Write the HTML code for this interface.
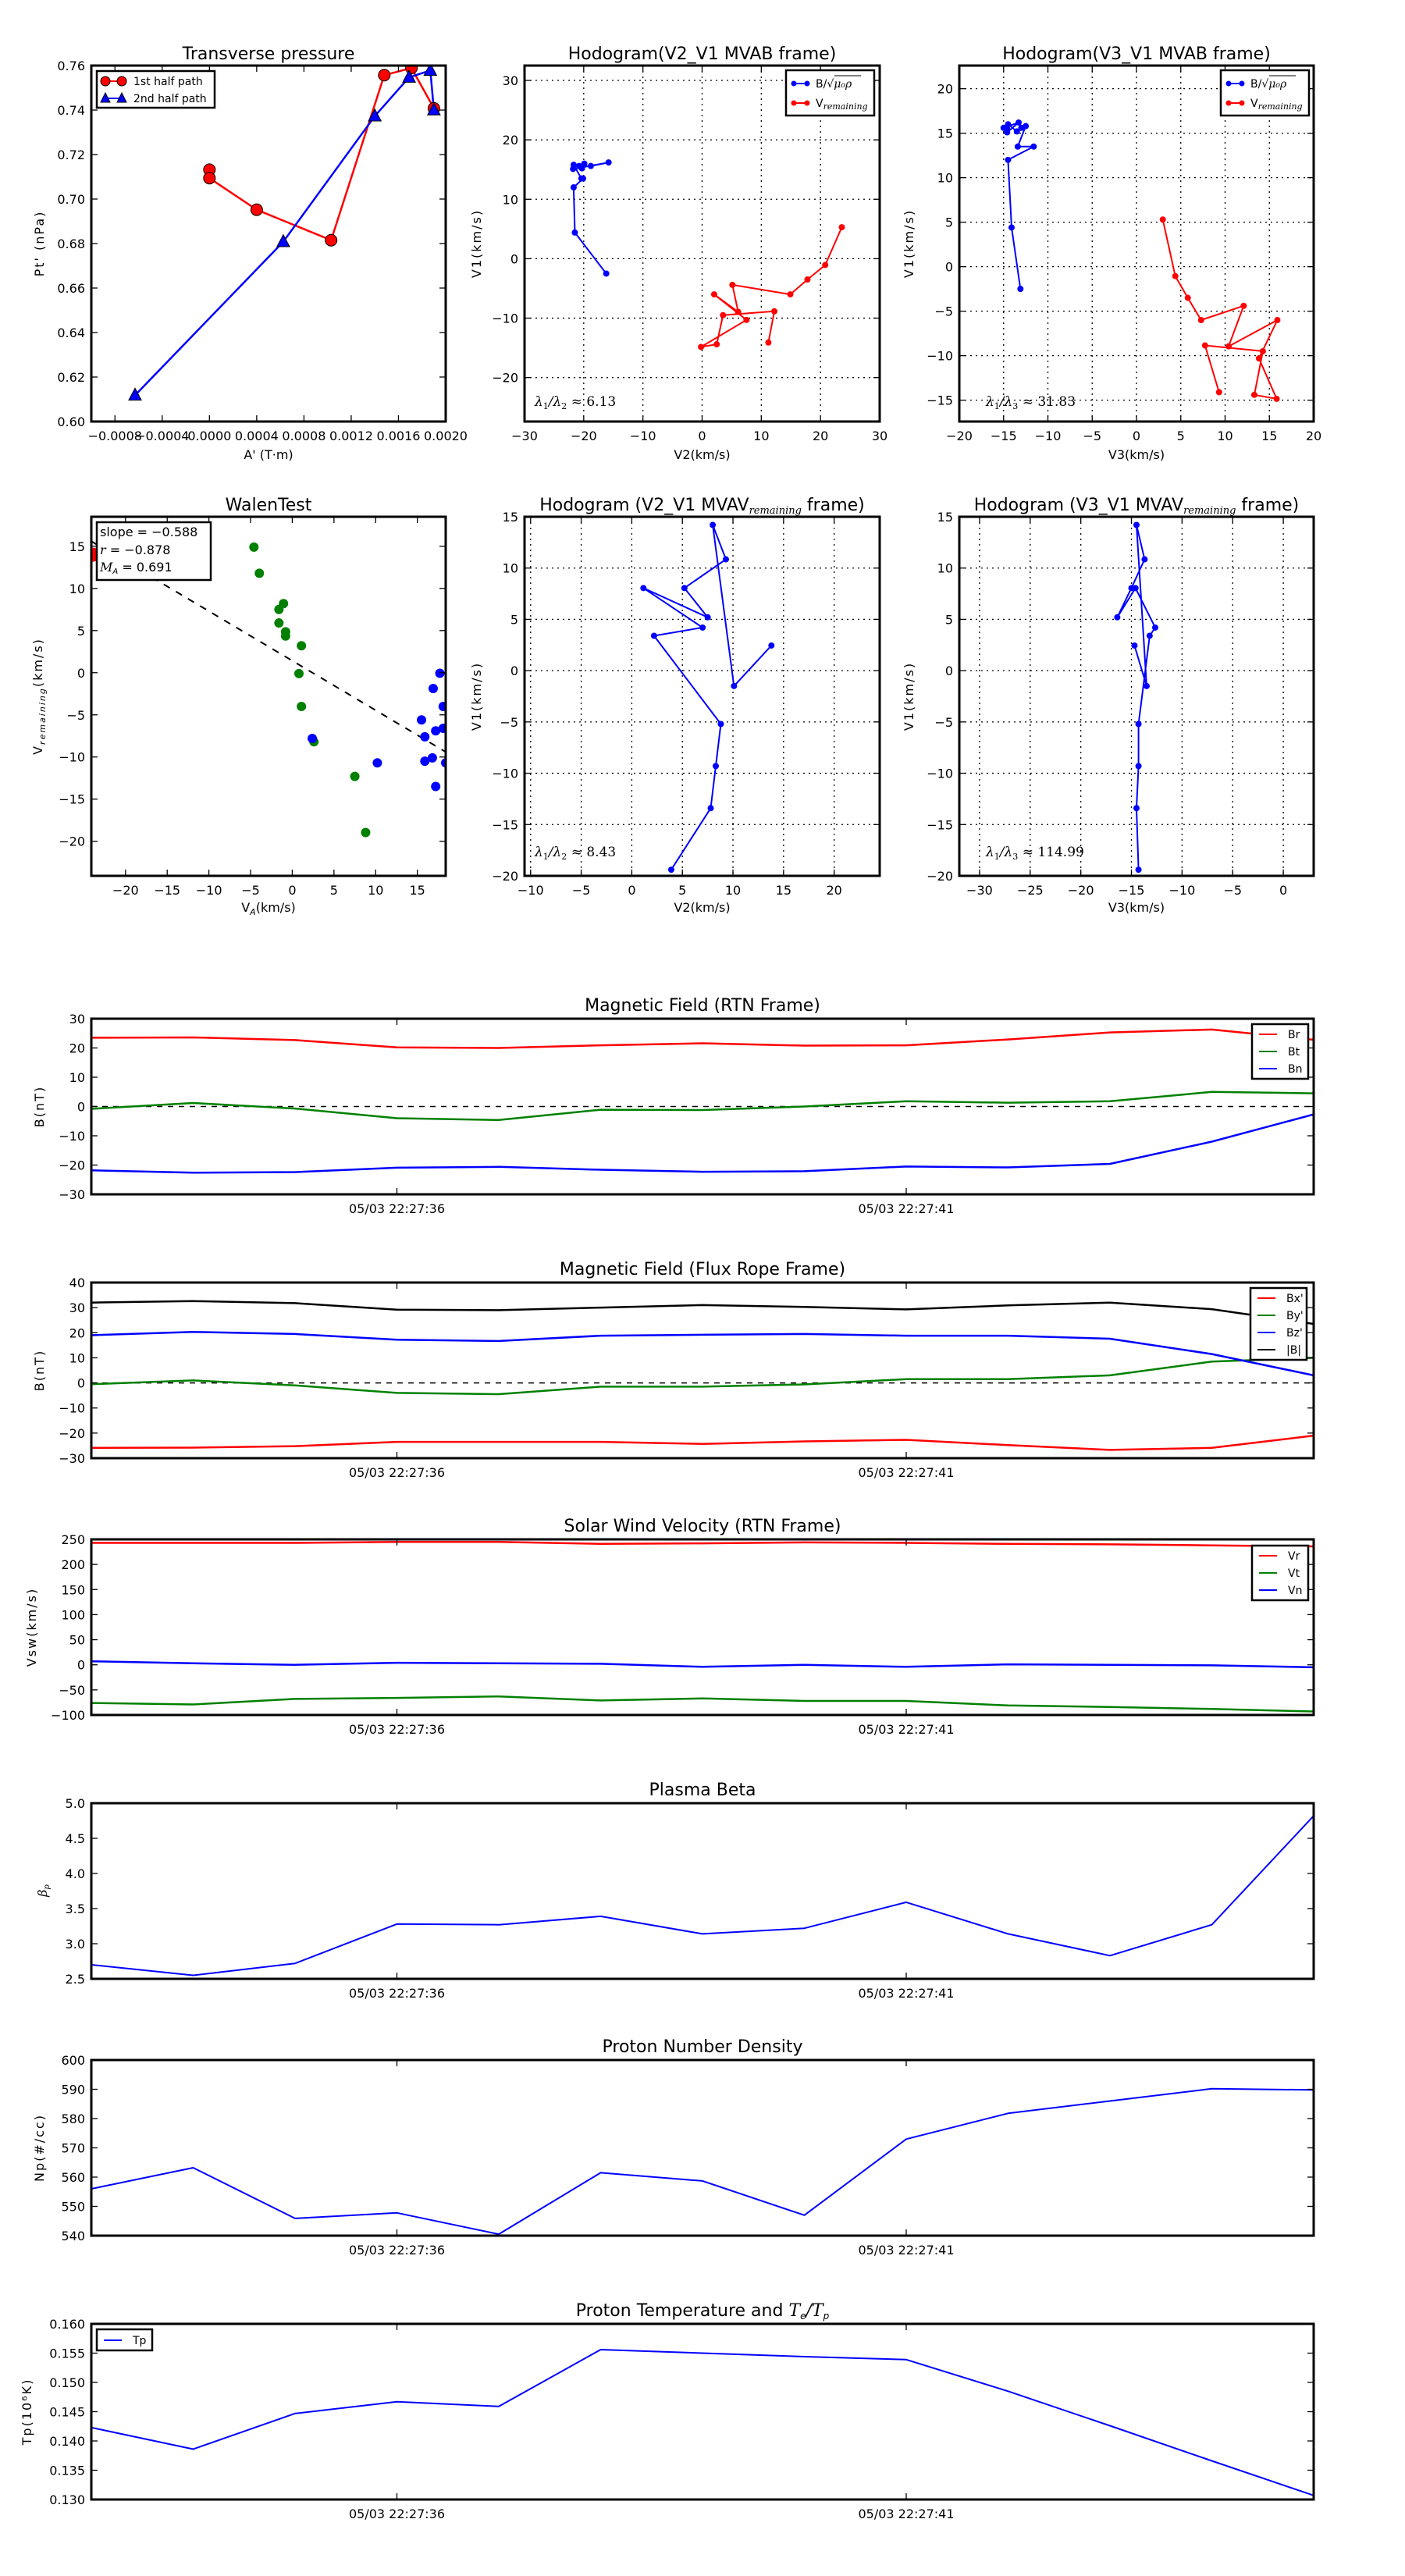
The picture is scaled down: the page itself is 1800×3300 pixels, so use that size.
<!DOCTYPE html>
<html><head><meta charset="utf-8"><title>Flux rope analysis</title>
<style>
html,body{margin:0;padding:0;background:#fff;}
svg{display:block;font-family:"DejaVu Sans","Liberation Sans",sans-serif;}
</style></head>
<body>
<svg id="fig" xmlns="http://www.w3.org/2000/svg" width="1800" height="3300" viewBox="0 0 1800 3300"></svg>
<script>
// ---------- DATA ----------
const tpRed_A = [0.0000, 0.0000, 0.0004, 0.00103, 0.00148, 0.00171, 0.0019];
const tpRed_P = [0.7132, 0.7094, 0.6952, 0.6815, 0.7557, 0.7589, 0.7408];
const tpBlue_A = [-0.00063, 0.000625, 0.0014, 0.00169, 0.00187, 0.0019];
const tpBlue_P = [0.6118, 0.6808, 0.7373, 0.7547, 0.7578, 0.7400];

const hB_V2 = [-16.2,-21.5,-21.7,-20.1,-20.4,-21.7,-20.8,-20.3,-19.9,-20.6,-18.8,-15.8,-21.8];
const hB_V3 = [-13.1,-14.1,-14.5,-11.6,-13.4,-12.5,-13.0,-13.5,-14.5,-14.6,-15.0,-13.3,-14.6];
const hB_V1 = [-2.5,4.4,12.0,13.5,13.5,15.8,15.6,15.2,16.0,15.5,15.6,16.2,15.1];
const hV_V2 = [23.6,20.8,17.8,14.9,5.12,6.09,2.03,7.5,-0.18,2.47,3.53,12.2,11.2];
const hV_V3 = [2.97,4.38,5.79,7.29,12.1,10.4,15.9,13.82,15.82,13.3,14.26,7.74,9.32];
const hV_V1 = [5.3,-1.06,-3.5,-6.0,-4.4,-8.95,-6.0,-10.3,-14.85,-14.4,-9.5,-8.85,-14.1];

const walenGreenX = [-4.6,-3.95,-1.05,-1.6,-1.6,-0.8,-0.8,1.1,0.8,1.1,2.6,7.5,8.8];
const walenGreenY = [14.9,11.8,8.2,7.5,5.9,4.85,4.35,3.2,-0.1,-4.0,-8.2,-12.3,-18.96];
const walenBlueX = [17.7,16.9,18.1,15.5,15.9,17.2,18.1,2.4,10.2,15.9,16.8,18.4,17.2];
const walenBlueY = [-0.07,-1.87,-4.0,-5.6,-7.6,-6.9,-6.6,-7.8,-10.7,-10.5,-10.1,-10.7,-13.5];
const walenRedX = [-23.9];
const walenRedY = [14.0];
const walenFit = [-0.588, 1.42];

const mvV1 = [-19.4,-13.4,-9.3,-5.2,3.4,4.2,8.05,5.2,8.05,10.85,14.2,-1.5,2.45];
const mvV2 = [3.9,7.8,8.3,8.8,2.2,7.0,1.15,7.5,5.2,9.3,8.0,10.1,13.8];
const mvV3 = [-14.3,-14.5,-14.3,-14.3,-13.2,-12.65,-14.6,-16.4,-15.0,-13.7,-14.5,-13.5,-14.7];

const timeLabels = ["05/03 22:27:36","05/03 22:27:41"];
const timeTickIdx = [3, 8];
const Br = [23.5,23.6,22.7,20.2,20.0,20.9,21.6,20.8,20.9,22.9,25.3,26.3,22.8];
const Bt = [-0.8,1.2,-0.7,-4.0,-4.6,-1.1,-1.2,0.0,1.8,1.3,1.8,5.0,4.5];
const Bn = [-21.8,-22.6,-22.4,-20.9,-20.6,-21.6,-22.3,-22.1,-20.5,-20.8,-19.6,-12.0,-2.7];
const Bx_ = [-25.9,-25.8,-25.2,-23.5,-23.5,-23.5,-24.3,-23.3,-22.7,-24.8,-26.7,-25.9,-21.0];
const By_ = [-0.5,1.0,-1.0,-4.0,-4.5,-1.5,-1.5,-0.6,1.5,1.5,3.0,8.5,10.0];
const Bz_ = [19.0,20.3,19.5,17.2,16.7,18.8,19.2,19.5,18.8,18.8,17.6,11.5,3.0];
const Bmag = [32.0,32.6,31.8,29.2,29.0,30.0,31.0,30.3,29.3,30.9,32.0,29.4,23.5];
const Vr = [243,243,243,245,245,241,242,244,243,241,240,238,236];
const Vt = [-76,-79,-68,-66,-63,-71,-67,-72,-72,-81,-84,-88,-93];
const Vn = [7,3,0,4,3,2,-4,0,-4,1,0,-1,-5];
const beta = [2.70,2.55,2.72,3.28,3.27,3.39,3.14,3.22,3.59,3.14,2.83,3.27,4.82];
const Np = [556,563.2,545.9,547.8,540.5,561.5,558.7,547,573,581.8,586,590.2,589.8];
const Tp = [0.1423,0.1386,0.1447,0.1467,0.1459,0.1556,0.1550,0.1544,0.1539,0.1485,0.1426,0.1366,0.1307];

// ---------- HELPERS ----------
const NS = "http://www.w3.org/2000/svg";
const svg = document.getElementById('fig');
function mk(parent, tag, attrs, name, inter) {
  const el = document.createElementNS(NS, tag);
  for (const k in attrs) el.setAttribute(k, attrs[k]);
  
  
  parent.appendChild(el);
  return el;
}
function txt(parent, x, y, s, size, anchor, name, extra) {
  const a = Object.assign({x:x, y:y, 'font-size':size, 'text-anchor':anchor||'middle', fill:'#000'}, extra||{});
  const t = mk(parent, 'text', a, name, false);
  t.textContent = s;
  return t;
}
function fmtNum(v, d) {
  let s = v.toFixed(d);
  if (Math.abs(v) < 1e-12) s = (0).toFixed(d);
  return s.replace('-', '\u2212');
}
function range(a, b, step) { const r = []; for (let v = a; v <= b + step*1e-6; v += step) r.push(+v.toFixed(8)); return r; }

function makeAxes(name, box, xlim, ylim) {
  const g = mk(svg, 'g', {}, name, false);
  const sx = v => box[0] + (v - xlim[0]) / (xlim[1] - xlim[0]) * (box[2] - box[0]);
  const sy = v => box[3] - (v - ylim[0]) / (ylim[1] - ylim[0]) * (box[3] - box[1]);
  const clipId = name + '-clip';
  const cp = mk(g, 'clipPath', {id: clipId}, name + '-clip-path', false);
  mk(cp, 'rect', {x: box[0], y: box[1], width: box[2]-box[0], height: box[3]-box[1]}, name + '-clip-rect', false);
  const plot = mk(g, 'g', {'clip-path': 'url(#' + clipId + ')'}, name + '-plot-area', false);
  return {g, plot, sx, sy, box, name};
}
function ticks(ax, xt, yt, xlab, ylab, grid) {
  const b = ax.box, g = ax.g;
  const tg = mk(g, 'g', {stroke:'#000', 'stroke-width':1.3}, ax.name + '-ticks', false);
  xt.forEach((v, i) => {
    const x = ax.sx(v);
    if (grid) mk(ax.plot, 'line', {x1:x, x2:x, y1:b[1], y2:b[3], stroke:'#000', 'stroke-width':1.3, 'stroke-dasharray':'2,5'}, ax.name + '-x-grid', false);
    mk(tg, 'line', {x1:x, x2:x, y1:b[3], y2:b[3]-8}, ax.name + '-x-tick', false);
    mk(tg, 'line', {x1:x, x2:x, y1:b[1], y2:b[1]+8}, ax.name + '-x-tick-top', false);
    if (xlab) txt(g, x, b[3] + 24, xlab[i], 16, 'middle', ax.name + '-x-tick-label');
  });
  yt.forEach((v, i) => {
    const y = ax.sy(v);
    if (grid) mk(ax.plot, 'line', {x1:b[0], x2:b[2], y1:y, y2:y, stroke:'#000', 'stroke-width':1.3, 'stroke-dasharray':'2,5'}, ax.name + '-y-grid', false);
    mk(tg, 'line', {x1:b[0], x2:b[0]+8, y1:y, y2:y}, ax.name + '-y-tick', false);
    mk(tg, 'line', {x1:b[2], x2:b[2]-8, y1:y, y2:y}, ax.name + '-y-tick-right', false);
    txt(g, b[0] - 8, y + 6, ylab[i], 16, 'end', ax.name + '-y-tick-label');
  });
}
function frame(ax) {
  const b = ax.box;
  mk(ax.g, 'rect', {x:b[0], y:b[1], width:b[2]-b[0], height:b[3]-b[1], fill:'none', stroke:'#000', 'stroke-width':3}, ax.name + '-frame', false);
}
function polyline(ax, xs, ys, color, w, name) {
  const pts = xs.map((x, i) => ax.sx(x).toFixed(1) + ',' + ax.sy(ys[i]).toFixed(1)).join(' ');
  return mk(ax.plot, 'polyline', {points: pts, fill:'none', stroke:color, 'stroke-width':w, 'stroke-linejoin':'round'}, name, false);
}
function dots(ax, xs, ys, color, r, name, stroke) {
  xs.forEach((x, i) => {
    mk(ax.plot, 'circle', {cx: ax.sx(x), cy: ax.sy(ys[i]), r: r, fill: color, stroke: stroke || 'none', 'stroke-width': 1}, name, false);
  });
}
function tris(ax, xs, ys, color, s, name) {
  xs.forEach((x, i) => {
    const cx = ax.sx(x), cy = ax.sy(ys[i]);
    mk(ax.plot, 'polygon', {points: `${cx},${cy-s} ${cx-s*0.9},${cy+s*0.7} ${cx+s*0.9},${cy+s*0.7}`, fill: color, stroke:'#000', 'stroke-width':1}, name, false);
  });
}
function title(ax, s, y, name) { return txt(ax.g, (ax.box[0]+ax.box[2])/2, y, s, 22, 'middle', name); }
function xlabel(ax, s, y, name) { return txt(ax.g, (ax.box[0]+ax.box[2])/2, y, s, 16, 'middle', name); }
function ylabel(ax, s, x, name) {
  const cy = (ax.box[1]+ax.box[3])/2;
  return txt(ax.g, x, cy, s, 16, 'middle', name, {transform: `rotate(-90 ${x} ${cy})`, 'letter-spacing':'2'});
}

// ---------- PANEL 1: Transverse pressure ----------
(function(){
  const ax = makeAxes('transverse-pressure-chart', [117,84,571,540], [-0.001,0.002], [0.60,0.76]);
  const xt = range(-0.0008, 0.0020, 0.0004), yt = range(0.60, 0.76, 0.02);
  ticks(ax, xt, yt, xt.map(v => fmtNum(v,4)), yt.map(v => fmtNum(v,2)), false);
  polyline(ax, tpRed_A, tpRed_P, '#ff0000', 2.5, 'first-half-path-line');
  polyline(ax, tpBlue_A, tpBlue_P, '#0000ff', 2.5, 'second-half-path-line');
  dots(ax, tpRed_A, tpRed_P, '#ff0000', 7.5, 'first-half-marker', '#000');
  tris(ax, tpBlue_A, tpBlue_P, '#0000ff', 9, 'second-half-marker');
  frame(ax);
  title(ax, 'Transverse pressure', 76, 'transverse-pressure-title');
  xlabel(ax, "A' (T\u00b7m)", 588, 'x-axis-title');
  ylabel(ax, "Pt' (nPa)", 56, 'y-axis-title');
  const lg = mk(ax.g, 'g', {}, 'legend', false);
  mk(lg, 'rect', {x:124, y:91, width:151, height:47, fill:'#fff', stroke:'#000', 'stroke-width':2.5}, 'legend-box', false);
  mk(lg, 'line', {x1:135, x2:156, y1:104, y2:104, stroke:'#ff0000', 'stroke-width':2}, 'legend-line-first', false);
  mk(lg, 'circle', {cx:135, cy:104, r:6, fill:'#ff0000', stroke:'#000'}, 'legend-marker-first', false);
  mk(lg, 'circle', {cx:156, cy:104, r:6, fill:'#ff0000', stroke:'#000'}, 'legend-marker-first', false);
  txt(lg, 171, 109, '1st half path', 14, 'start', 'legend-entry-first');
  mk(lg, 'line', {x1:135, x2:156, y1:126, y2:126, stroke:'#0000ff', 'stroke-width':2}, 'legend-line-second', false);
  mk(lg, 'polygon', {points:'135,119 129,131 141,131', fill:'#0000ff', stroke:'#000'}, 'legend-marker-second', false);
  mk(lg, 'polygon', {points:'156,119 150,131 162,131', fill:'#0000ff', stroke:'#000'}, 'legend-marker-second', false);
  txt(lg, 171, 131, '2nd half path', 14, 'start', 'legend-entry-second');
})();

// ---------- hodogram legend helper ----------
function hodoLegend(ax, x0) {
  const lg = mk(ax.g, 'g', {}, ax.name + '-legend', false);
  mk(lg, 'rect', {x:x0, y:90, width:113, height:58, fill:'#fff', stroke:'#000', 'stroke-width':2.5}, ax.name + '-legend-box', false);
  mk(lg, 'line', {x1:x0+10, x2:x0+27, y1:107, y2:107, stroke:'#0000ff', 'stroke-width':2}, ax.name + '-legend-line-b', false);
  mk(lg, 'circle', {cx:x0+10, cy:107, r:3.5, fill:'#0000ff'}, ax.name + '-legend-dot-b', false);
  mk(lg, 'circle', {cx:x0+27, cy:107, r:3.5, fill:'#0000ff'}, ax.name + '-legend-dot-b', false);
  const t1 = txt(lg, x0+38, 112, 'B/\u221a', 14, 'start', ax.name + '-legend-entry-b');
  const sp = document.createElementNS(NS, 'tspan');
  sp.setAttribute('font-family', '"DejaVu Serif", serif');
  sp.setAttribute('font-style', 'italic');
  sp.textContent = '\u03bc\u2080\u03c1';
  t1.appendChild(sp);
  mk(lg, 'line', {x1:x0+62, x2:x0+96, y1:97, y2:97, stroke:'#000', 'stroke-width':1}, ax.name + '-legend-sqrt-bar', false);
  mk(lg, 'line', {x1:x0+10, x2:x0+27, y1:132, y2:132, stroke:'#ff0000', 'stroke-width':2}, ax.name + '-legend-line-v', false);
  mk(lg, 'circle', {cx:x0+10, cy:132, r:3.5, fill:'#ff0000'}, ax.name + '-legend-dot-v', false);
  mk(lg, 'circle', {cx:x0+27, cy:132, r:3.5, fill:'#ff0000'}, ax.name + '-legend-dot-v', false);
  const t2 = txt(lg, x0+38, 137, 'V', 14, 'start', ax.name + '-legend-entry-v');
  const s2 = document.createElementNS(NS, 'tspan');
  s2.setAttribute('font-family', '"DejaVu Serif", serif');
  s2.setAttribute('font-style', 'italic');
  s2.setAttribute('font-size', '11');
  s2.setAttribute('dy', '3');
  s2.textContent = 'remaining';
  t2.appendChild(s2);
}
function lambdaText(ax, x, y, sub2, val) {
  const t = txt(ax.g, x, y, '', 17, 'start', ax.name + '-eigen-ratio', {'font-family':'"DejaVu Serif", serif'});
  const parts = [['\u03bb',0,17,'italic'],['1',4,11,''],['/\u03bb',-4,17,'italic'],[sub2,4,11,''],[' \u2248 ' + val,-4,17,'']];
  parts.forEach(p => {
    const s = document.createElementNS(NS, 'tspan');
    s.setAttribute('dy', p[1]); s.setAttribute('font-size', p[2]);
    if (p[3]) s.setAttribute('font-style', p[3]);
    s.textContent = p[0]; t.appendChild(s);
  });
}

// ---------- PANEL 2: Hodogram V2-V1 MVAB ----------
(function(){
  const ax = makeAxes('hodogram-v2-v1-mvab', [672,84,1127,540], [-30,30], [-27.4,32.5]);
  const xt = range(-30,30,10), yt = range(-20,30,10);
  ticks(ax, xt, yt, xt.map(v => fmtNum(v,0)), yt.map(v => fmtNum(v,0)), true);
  polyline(ax, hB_V2, hB_V1, '#0000ff', 2, 'b-hodogram-line');
  dots(ax, hB_V2, hB_V1, '#0000ff', 4, 'b-hodogram-point');
  polyline(ax, hV_V2, hV_V1, '#ff0000', 2, 'v-hodogram-line');
  dots(ax, hV_V2, hV_V1, '#ff0000', 4, 'v-hodogram-point');
  frame(ax);
  title(ax, 'Hodogram(V2_V1 MVAB frame)', 76, 'hodogram-v2-title');
  xlabel(ax, 'V2(km/s)', 588, 'x-axis-title');
  ylabel(ax, 'V1(km/s)', 616, 'y-axis-title');
  hodoLegend(ax, 1007);
  lambdaText(ax, 685, 520, '2', '6.13');
})();

// ---------- PANEL 3: Hodogram V3-V1 MVAB ----------
(function(){
  const ax = makeAxes('hodogram-v3-v1-mvab', [1229,84,1683,540], [-20,20], [-17.4,22.6]);
  const xt = range(-20,20,5), yt = range(-15,20,5);
  ticks(ax, xt, yt, xt.map(v => fmtNum(v,0)), yt.map(v => fmtNum(v,0)), true);
  polyline(ax, hB_V3, hB_V1, '#0000ff', 2, 'b-hodogram-line');
  dots(ax, hB_V3, hB_V1, '#0000ff', 4, 'b-hodogram-point');
  polyline(ax, hV_V3, hV_V1, '#ff0000', 2, 'v-hodogram-line');
  dots(ax, hV_V3, hV_V1, '#ff0000', 4, 'v-hodogram-point');
  frame(ax);
  title(ax, 'Hodogram(V3_V1 MVAB frame)', 76, 'hodogram-v3-title');
  xlabel(ax, 'V3(km/s)', 588, 'x-axis-title');
  ylabel(ax, 'V1(km/s)', 1170, 'y-axis-title');
  hodoLegend(ax, 1564);
  lambdaText(ax, 1263, 520, '3', '31.83');
})();

// ---------- PANEL 4: Walen test ----------
(function(){
  const ax = makeAxes('walen-test-chart', [117,662,571,1122], [-24.1,18.4], [-24.1,18.5]);
  const xt = range(-20,15,5), yt = range(-20,15,5);
  ticks(ax, xt, yt, xt.map(v => fmtNum(v,0)), yt.map(v => fmtNum(v,0)), false);
  const fx = [-24.1, 18.4];
  const fy = fx.map(x => walenFit[0]*x + walenFit[1]);
  mk(ax.plot, 'line', {x1:ax.sx(fx[0]), y1:ax.sy(fy[0]), x2:ax.sx(fx[1]), y2:ax.sy(fy[1]), stroke:'#000', 'stroke-width':2, 'stroke-dasharray':'9,9'}, 'fit-line', false);
  dots(ax, walenGreenX, walenGreenY, '#008000', 6, 'walen-green-point');
  dots(ax, walenBlueX, walenBlueY, '#0000ff', 6, 'walen-blue-point');
  dots(ax, walenRedX, walenRedY, '#ff0000', 9, 'walen-red-point');
  frame(ax);
  title(ax, 'WalenTest', 654, 'walen-test-title');
  const xl = xlabel(ax, 'V', 1168, 'x-axis-title');
  const s1 = document.createElementNS(NS,'tspan'); s1.setAttribute('font-size','11'); s1.setAttribute('dy','4'); s1.setAttribute('font-style','italic'); s1.textContent='A'; xl.appendChild(s1);
  const s1b = document.createElementNS(NS,'tspan'); s1b.setAttribute('dy','-4'); s1b.textContent='(km/s)'; xl.appendChild(s1b);
  const yl = ylabel(ax, 'V', 54, 'y-axis-title');
  const s2 = document.createElementNS(NS,'tspan'); s2.setAttribute('font-size','11'); s2.setAttribute('dy','4'); s2.setAttribute('font-style','italic'); s2.textContent='remaining'; yl.appendChild(s2);
  const s2b = document.createElementNS(NS,'tspan'); s2b.setAttribute('dy','-4'); s2b.textContent='(km/s)'; yl.appendChild(s2b);
  const lg = mk(ax.g, 'g', {}, 'walen-stats-legend', false);
  mk(lg, 'rect', {x:124, y:669, width:146, height:74, fill:'#fff', stroke:'#000', 'stroke-width':2.5}, 'walen-stats-box', false);
  txt(lg, 128, 687, 'slope = \u22120.588', 16, 'start', 'slope-value');
  txt(lg, 128, 710, '', 16, 'start', 'r-value').innerHTML = '<tspan font-style="italic" font-family="DejaVu Serif, serif">r</tspan> = \u22120.878';
  txt(lg, 128, 732, '', 16, 'start', 'alfven-mach-value').innerHTML = '<tspan font-style="italic" font-family="DejaVu Serif, serif">M</tspan><tspan font-size="10" dy="3" font-style="italic">A</tspan><tspan dy="-3"> = 0.691</tspan>';
})();

// ---------- PANEL 5/6: MVAV hodograms ----------
function mvTitle(ax, base, y, name) {
  const t = title(ax, base, y, name);
  const s = document.createElementNS(NS,'tspan'); s.setAttribute('font-size','13'); s.setAttribute('dy','4'); s.setAttribute('font-style','italic'); s.setAttribute('font-family','"DejaVu Serif", serif'); s.textContent='remaining'; t.appendChild(s);
  const s2 = document.createElementNS(NS,'tspan'); s2.setAttribute('dy','-4'); s2.textContent=' frame)'; t.appendChild(s2);
}
(function(){
  const ax = makeAxes('hodogram-v2-v1-mvav', [672,662,1127,1122], [-10.6,24.5], [-20,15]);
  const xt = range(-10,20,5), yt = range(-20,15,5);
  ticks(ax, xt, yt, xt.map(v => fmtNum(v,0)), yt.map(v => fmtNum(v,0)), true);
  polyline(ax, mvV2, mvV1, '#0000ff', 2, 'mvav-v2-line');
  dots(ax, mvV2, mvV1, '#0000ff', 4, 'mvav-v2-point');
  frame(ax);
  mvTitle(ax, 'Hodogram (V2_V1 MVAV', 654, 'hodogram-mvav-v2-title');
  xlabel(ax, 'V2(km/s)', 1168, 'x-axis-title');
  ylabel(ax, 'V1(km/s)', 616, 'y-axis-title');
  lambdaText(ax, 685, 1097, '2', '8.43');
})();
(function(){
  const ax = makeAxes('hodogram-v3-v1-mvav', [1229,662,1683,1122], [-32,3], [-20,15]);
  const xt = range(-30,0,5), yt = range(-20,15,5);
  ticks(ax, xt, yt, xt.map(v => fmtNum(v,0)), yt.map(v => fmtNum(v,0)), true);
  polyline(ax, mvV3, mvV1, '#0000ff', 2, 'mvav-v3-line');
  dots(ax, mvV3, mvV1, '#0000ff', 4, 'mvav-v3-point');
  frame(ax);
  mvTitle(ax, 'Hodogram (V3_V1 MVAV', 654, 'hodogram-mvav-v3-title');
  xlabel(ax, 'V3(km/s)', 1168, 'x-axis-title');
  ylabel(ax, 'V1(km/s)', 1170, 'y-axis-title');
  lambdaText(ax, 1263, 1097, '3', '114.99');
})();

// ---------- TIME SERIES ----------
const idx = Br.map((_, i) => i);
function tsPanel(name, top, ylim, ystep, ydec, ttl, ylab, ylabX, series, zeroLine) {
  const ax = makeAxes(name, [117, top, 1683, top + 225], [0, idx.length - 1], ylim);
  const yt = range(ylim[0], ylim[1], ystep);
  ticks(ax, timeTickIdx, yt, timeLabels, yt.map(v => fmtNum(v, ydec)), false);
  if (zeroLine) mk(ax.plot, 'line', {x1:117, x2:1683, y1:ax.sy(0), y2:ax.sy(0), stroke:'#000', 'stroke-width':1.5, 'stroke-dasharray':'7,7'}, name + '-zero-line', false);
  series.forEach(s => polyline(ax, idx, s.v, s.c, s.w || 2.5, s.n));
  frame(ax);
  const t = title(ax, ttl, top - 10, name + '-title');
  ylabel(ax, ylab, ylabX, name + '-y-axis-title');
  return {ax, t};
}
function tsLegend(ax, x0, y0, items, name) {
  const lg = mk(ax.g, 'g', {}, name, false);
  mk(lg, 'rect', {x:x0, y:y0, width:72, height:items.length*22 + 4, fill:'#fff', stroke:'#000', 'stroke-width':2.5}, name + '-box', false);
  items.forEach((it, i) => {
    const y = y0 + 13 + i*22;
    mk(lg, 'line', {x1:x0+9, x2:x0+32, y1:y, y2:y, stroke:it[1], 'stroke-width':2}, name + '-line', false);
    txt(lg, x0+46, y + 5, it[0], 14, 'start', name + '-entry');
  });
}
(function(){
  const p = tsPanel('magnetic-field-rtn-chart', 1305, [-30,30], 10, 0, 'Magnetic Field (RTN Frame)', 'B(nT)', 56,
    [{v:Br,c:'#ff0000',n:'br-line'},{v:Bt,c:'#008000',n:'bt-line'},{v:Bn,c:'#0000ff',n:'bn-line'}], true);
  tsLegend(p.ax, 1604, 1312, [['Br','#ff0000'],['Bt','#008000'],['Bn','#0000ff']], 'magnetic-rtn-legend');
})();
(function(){
  const p = tsPanel('magnetic-field-flux-rope-chart', 1643, [-30,40], 10, 0, 'Magnetic Field (Flux Rope Frame)', 'B(nT)', 56,
    [{v:Bx_,c:'#ff0000',n:'bx-line'},{v:By_,c:'#008000',n:'by-line'},{v:Bz_,c:'#0000ff',n:'bz-line'},{v:Bmag,c:'#000000',n:'bmag-line'}], true);
  tsLegend(p.ax, 1602, 1650, [["Bx'",'#ff0000'],["By'",'#008000'],["Bz'",'#0000ff'],['|B|','#000000']], 'flux-rope-legend');
})();
(function(){
  const p = tsPanel('solar-wind-velocity-chart', 1972, [-100,250], 50, 0, 'Solar Wind Velocity (RTN Frame)', 'Vsw(km/s)', 46,
    [{v:Vr,c:'#ff0000',n:'vr-line'},{v:Vt,c:'#008000',n:'vt-line'},{v:Vn,c:'#0000ff',n:'vn-line'}], false);
  tsLegend(p.ax, 1604, 1980, [['Vr','#ff0000'],['Vt','#008000'],['Vn','#0000ff']], 'velocity-legend');
})();
(function(){
  const p = tsPanel('plasma-beta-chart', 2310, [2.5,5.0], 0.5, 1, 'Plasma Beta', '', 56,
    [{v:beta,c:'#0000ff',n:'beta-line',w:2}], false);
  const cy = 2422;
  txt(p.ax.g, 60, cy, '\u03b2', 16, 'middle', 'beta-y-axis-title', {transform:`rotate(-90 60 ${cy})`, 'font-style':'italic', 'font-family':'"DejaVu Serif", serif'}).innerHTML = '\u03b2<tspan font-size="10" dy="3">p</tspan>';
})();
(function(){
  tsPanel('proton-density-chart', 2639, [540,600], 10, 0, 'Proton Number Density', 'Np(#/cc)', 56,
    [{v:Np,c:'#0000ff',n:'np-line',w:2}], false);
})();
(function(){
  const p = tsPanel('proton-temperature-chart', 2977, [0.130,0.160], 0.005, 3, 'Proton Temperature and ', 'Tp(10\u2076K)', 40,
    [{v:Tp,c:'#0000ff',n:'tp-line',w:2}], false);
  p.t.innerHTML = 'Proton Temperature and <tspan font-style="italic" font-family="DejaVu Serif, serif">T</tspan><tspan font-size="12" dy="4" font-style="italic">e</tspan><tspan dy="-4" font-style="italic" font-family="DejaVu Serif, serif">/T</tspan><tspan font-size="12" dy="4" font-style="italic">p</tspan>';
  const lg = mk(p.ax.g, 'g', {}, 'tp-legend', false);
  mk(lg, 'rect', {x:124, y:2984, width:71, height:27, fill:'#fff', stroke:'#000', 'stroke-width':2.5}, 'tp-legend-box', false);
  mk(lg, 'line', {x1:133, x2:156, y1:2998, y2:2998, stroke:'#0000ff', 'stroke-width':2}, 'tp-legend-line', false);
  txt(lg, 170, 3003, 'Tp', 14, 'start', 'tp-legend-entry');
})();
</script>
</body></html>
